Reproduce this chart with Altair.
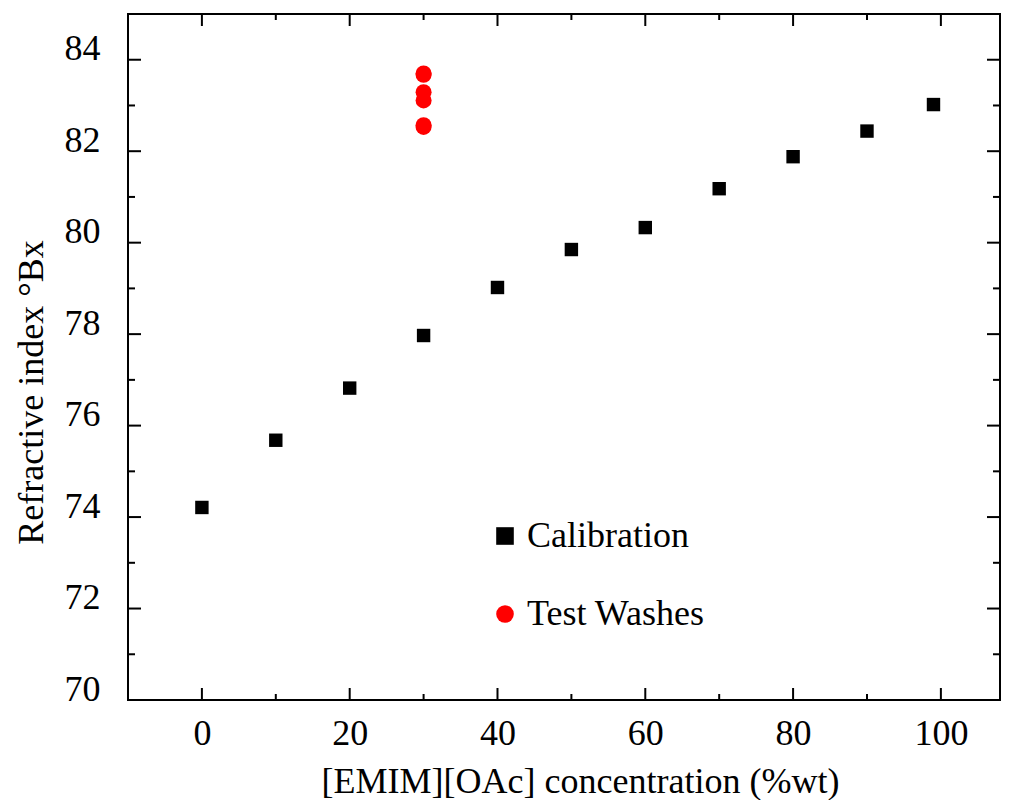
import altair as alt
import pandas as pd

# ---- data ----
cal_x = [0, 10, 20, 30, 40, 50, 60, 70, 80, 90, 99]
cal_y = [74.21, 75.68, 76.82, 77.97, 79.02, 79.85, 80.33, 81.18, 81.88, 82.44, 83.02]
wash_x = [30, 30, 30, 30, 30, 30]
wash_y = [83.70, 83.67, 83.29, 83.11, 82.57, 82.53]
series_names = ["Calibration", "Test Washes"]
series_colors = ["#000000", "#ff0000"]
series_shapes = ["square", "circle"]

x_major = [0, 20, 40, 60, 80, 100]
x_minor = [10, 30, 50, 70, 90]
y_major = [70, 72, 74, 76, 78, 80, 82, 84]
y_minor = [71, 73, 75, 77, 79, 81, 83, 85]

x_title = "[EMIM][OAc] concentration (%wt)"
y_title = "Refractive index \u00b0Bx"

W, H = 872, 686
FONT = "Liberation Serif"
MAJ, MIN = 12, 6

df = pd.DataFrame({
    "x": cal_x + wash_x,
    "y": cal_y + wash_y,
    "series": [series_names[0]] * len(cal_x) + [series_names[1]] * len(wash_x),
})

xscale = alt.Scale(domain=[-10, 108.0], nice=False, zero=False)
yscale = alt.Scale(domain=[70, 85], nice=False, zero=False)

xaxis = alt.Axis(values=x_major, title=x_title, grid=False, ticks=False, tickSize=0,
                 domain=False, labelFont=FONT, labelFontSize=36, labelColor="black",
                 labelPadding=16, labelFlush=False, labelOverlap=False,
                 titleFont=FONT, titleFontSize=36, titleFontWeight="normal",
                 titleColor="black", titleX=452, titleY=92, titleBaseline="alphabetic")
yaxis = alt.Axis(values=y_major, title=y_title, grid=False, ticks=False, tickSize=0,
                 domain=False, labelFont=FONT, labelFontSize=36, labelColor="black",
                 labelPadding=28, labelBaseline="alphabetic", labelFlush=False,
                 labelOverlap=False,
                 titleFont=FONT, titleFontSize=36, titleFontWeight="normal",
                 titleColor="black", titleX=-86, titleY=378, titleBaseline="alphabetic")

X = alt.X("x:Q", scale=xscale, axis=xaxis)
Y = alt.Y("y:Q", scale=yscale, axis=yaxis)

legend = alt.Legend(title=None, orient="none", legendX=359, legendY=504,
                    direction="vertical", labelFont=FONT, labelFontSize=36,
                    labelColor="black", symbolSize=310, labelOffset=4,
                    labelLimit=500, rowPadding=42, symbolStrokeWidth=0, padding=0)

points = alt.Chart(df).mark_point(filled=True, opacity=1, strokeWidth=0).encode(
    x=X, y=Y,
    color=alt.Color("series:N", scale=alt.Scale(domain=series_names, range=series_colors),
                    legend=legend),
    shape=alt.Shape("series:N", scale=alt.Scale(domain=series_names, range=series_shapes),
                    legend=legend),
    size=alt.condition(alt.datum.series == series_names[0], alt.value(180), alt.value(256)),
)

def xticks(vals, length):
    d = pd.DataFrame({"x": vals})
    base = alt.Chart(d).mark_rule(color="black", strokeWidth=2)
    bottom = base.encode(x=X, y=alt.value(H), y2=alt.value(H - length))
    top = base.encode(x=X, y=alt.value(0), y2=alt.value(length))
    return [bottom, top]

def yticks(vals, length):
    d = pd.DataFrame({"y": vals})
    base = alt.Chart(d).mark_rule(color="black", strokeWidth=2)
    left = base.encode(y=Y, x=alt.value(0), x2=alt.value(length))
    right = base.encode(y=Y, x=alt.value(W), x2=alt.value(W - length))
    return [left, right]

layers = (xticks(x_major, MAJ) + xticks(x_minor, MIN)
          + yticks(y_major, MAJ + 1) + yticks(y_minor, MIN + 1) + [points])

chart = alt.layer(*layers).properties(
    width=W, height=H,
    background="white",
    autosize=alt.AutoSizeParams(type="none"),
    padding={"left": 120, "top": 6, "right": 2, "bottom": 100},
).configure_view(stroke="black", strokeWidth=2)

chart.save("out.html", embed_options={"renderer": "svg", "actions": False})
